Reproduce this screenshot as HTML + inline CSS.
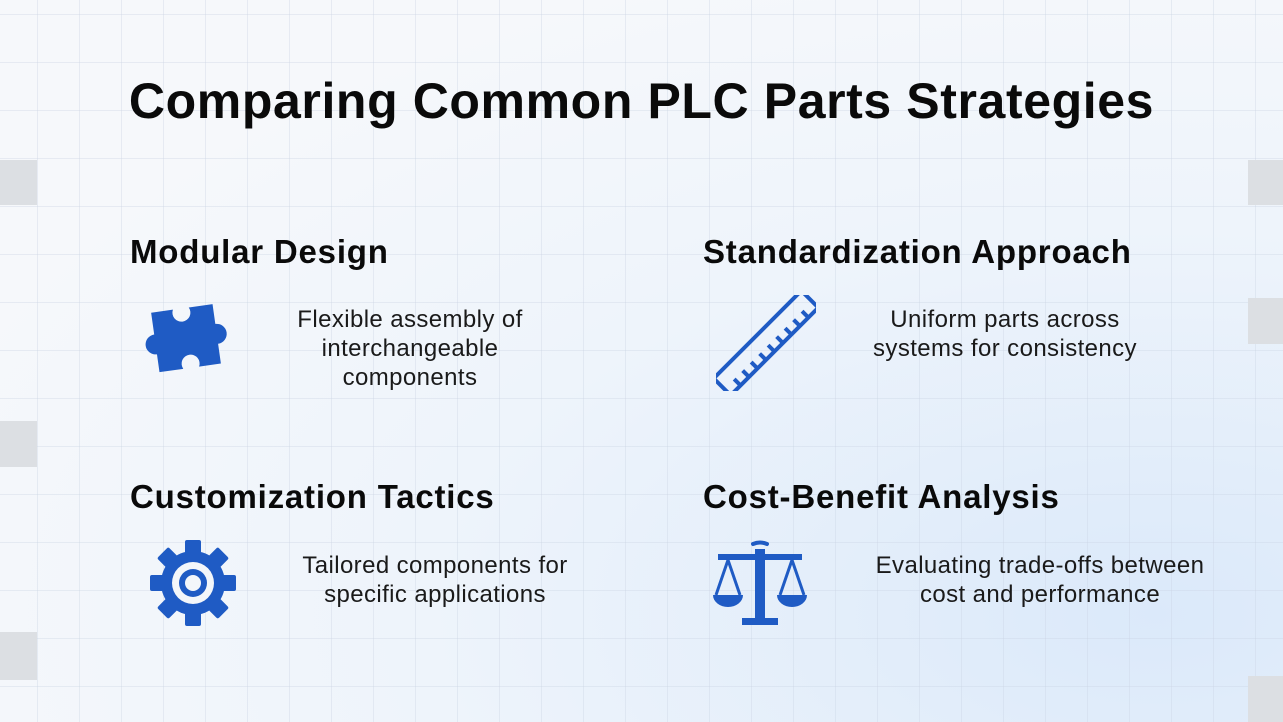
<!DOCTYPE html>
<html><head><meta charset="utf-8"><style>
body{margin:0;width:1283px;height:722px;overflow:hidden;font-family:"Liberation Sans",sans-serif;}
.bg{position:absolute;left:0;top:0;width:1283px;height:722px;
background:
linear-gradient(rgba(200,210,225,0.35) 1px,transparent 1px) 0 14px/38px 48px,
linear-gradient(90deg,rgba(200,210,225,0.35) 1px,transparent 1px) 37px 0/42px 38px,
radial-gradient(ellipse at 90% 85%,#dbe9fa 0%,#eef4fb 45%,#f6f8fb 80%);}
.sq{position:absolute;background:#dcdfe3;}
h1{position:absolute;left:0;width:1283px;top:72px;margin:0;text-align:center;font-size:50px;font-weight:bold;color:#0a0a0a;letter-spacing:0.6px}
.h{position:absolute;font-size:33px;font-weight:bold;color:#0a0a0a;letter-spacing:0.8px}
.t{position:absolute;font-size:24px;color:#1a1a1a;text-align:center;line-height:29px;letter-spacing:0.4px}
svg{position:absolute}
</style></head><body>
<div class="bg"></div>
<div class="sq" style="left:0;top:160px;width:37px;height:45px"></div>
<div class="sq" style="left:0;top:421px;width:37px;height:46px"></div>
<div class="sq" style="left:0;top:632px;width:37px;height:48px"></div>
<div class="sq" style="left:1248px;top:160px;width:35px;height:45px"></div>
<div class="sq" style="left:1248px;top:298px;width:35px;height:46px"></div>
<div class="sq" style="left:1248px;top:676px;width:35px;height:46px"></div>
<h1>Comparing Common PLC Parts Strategies</h1>
<div class="h" style="left:130px;top:233px">Modular Design</div>
<div class="h" style="left:703px;top:233px">Standardization Approach</div>
<div class="h" style="left:130px;top:478px">Customization Tactics</div>
<div class="h" style="left:703px;top:478px">Cost-Benefit Analysis</div>
<div class="t" style="left:260px;top:305px;width:300px">Flexible assembly of<br>interchangeable<br>components</div>
<div class="t" style="left:840px;top:305px;width:330px">Uniform parts across<br>systems for consistency</div>
<div class="t" style="left:265px;top:551px;width:340px">Tailored components for<br>specific applications</div>
<div class="t" style="left:840px;top:551px;width:400px">Evaluating trade-offs between<br>cost and performance</div>
<!-- puzzle -->
<svg style="left:135px;top:296px" width="105" height="84" viewBox="0 0 105 80">
<g transform="rotate(-8 52 40)" fill="#1f5bc4">
<path d="M20 10 H42 A9 9 0 1 0 58 10 H82 V30 A9 9 0 1 1 82 50 V70 H60 A9 9 0 1 0 44 70 H20 V52 A9 9 0 1 1 20 32 Z"/>
</g></svg>
<!-- ruler -->
<svg style="left:716px;top:295px" width="100" height="96" viewBox="0 0 100 96">
<g transform="translate(50 48) rotate(-45)" fill="none" stroke="#1f5bc4" stroke-width="4">
<rect x="-62" y="-12" width="124" height="24" rx="2"/>
<path d="M-48 12v-9M-36 12v-9M-24 12v-9M-12 12v-9M0 12v-9M12 12v-9M24 12v-9M36 12v-9M48 12v-9"/>
</g></svg>
<!-- gear -->
<svg style="left:146px;top:538px" width="94" height="90" viewBox="-47 -45 94 90">
<g fill="#1f5bc4">
<circle r="32"/>
<g id="tt"><rect x="-8" y="-43" width="16" height="15" rx="2"/></g>
<use href="#tt" transform="rotate(45)"/><use href="#tt" transform="rotate(90)"/><use href="#tt" transform="rotate(135)"/>
<use href="#tt" transform="rotate(180)"/><use href="#tt" transform="rotate(225)"/><use href="#tt" transform="rotate(270)"/><use href="#tt" transform="rotate(315)"/>
</g>
<circle r="21" fill="#f3f6fa"/><circle r="14" fill="#1f5bc4"/><circle r="8" fill="#f3f6fa"/>
</svg>
<!-- scales -->
<svg style="left:710px;top:540px" width="100" height="90" viewBox="0 0 100 90">
<g fill="#1f5bc4" stroke="#1f5bc4">
<path d="M43 4 Q50 1 57 4" fill="none" stroke-width="4" stroke-linecap="round"/>
<rect x="45" y="9" width="10" height="72" stroke="none"/>
<rect x="8" y="14" width="84" height="6" stroke="none"/>
<rect x="32" y="78" width="36" height="7" stroke="none"/>
<path d="M18 20 L6 55 M18 20 L30 55 M82 20 L70 55 M82 20 L94 55" fill="none" stroke-width="3"/>
<path d="M3 55 H33 A15 12 0 0 1 3 55Z" stroke="none"/>
<path d="M67 55 H97 A15 12 0 0 1 67 55Z" stroke="none"/>
</g></svg>
</body></html>
